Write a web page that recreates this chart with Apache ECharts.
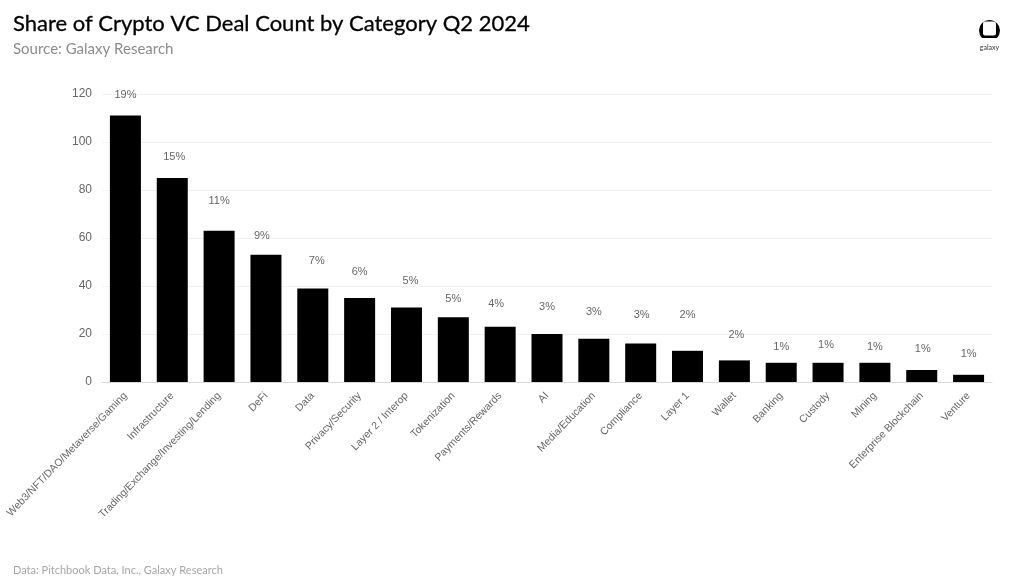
<!DOCTYPE html>
<html>
<head>
<meta charset="utf-8">
<style>
  html, body { margin: 0; padding: 0; background: #fff; }
  #chart { width: 1011px; height: 588px; }
</style>
<script src="https://cdn.jsdelivr.net/npm/echarts@6/dist/echarts.min.js"></script>
</head>
<body>
<div id="chart"></div>
<script>
const categories = [
  'Web3/NFT/DAO/Metaverse/Gaming', 'Infrastructure', 'Trading/Exchange/Investing/Lending',
  'DeFi', 'Data', 'Privacy/Security', 'Layer 2 / Interop', 'Tokenization', 'Payments/Rewards',
  'AI', 'Media/Education', 'Compliance', 'Layer 1', 'Wallet', 'Banking', 'Custody', 'Mining',
  'Enterprise Blockchain', 'Venture'
];
const dealCounts = [111, 85, 63, 53, 39, 35, 31, 27, 23, 20, 18, 16, 13, 9, 8, 8, 8, 5, 3];
const shares = ['19%', '15%', '11%', '9%', '7%', '6%', '5%', '5%', '4%', '3%', '3%', '3%', '2%', '2%', '1%', '1%', '1%', '1%', '1%'];

// the % labels were placed by hand in the original, so each one gets its own nudge (px)
const labelRise = [21, 21, 30, 19, 27, 26, 27, 18, 23, 27, 27, 29, 36, 25, 16, 18, 16, 21, 21];
const labelShift = [0, 2, 0, -4, 4, 0, 4, 0, -4, 0, 0, 1, 0, 2, 0, -2, 0, 1, 0];

const myChart = echarts.init(document.getElementById('chart'), null, { renderer: 'canvas' });
const labelFont = '"Liberation Sans", Arial, sans-serif';
const headFont = 'Lato, "Noto Sans", sans-serif';

myChart.setOption({
  animation: false,
  backgroundColor: '#ffffff',
  title: [
    {
      text: 'Share of Crypto VC Deal Count by Category Q2 2024',
      left: 13, top: 13, padding: 0,
      textStyle: {
        fontFamily: headFont, fontSize: 22, fontWeight: 400, color: '#000000',
        textBorderColor: '#000000', textBorderWidth: 0.3
      }
    },
    {
      text: 'Source: Galaxy Research',
      left: 13, top: 42, padding: 0,
      textStyle: { fontFamily: headFont, fontSize: 15, fontWeight: 400, color: '#8c8c8c' }
    },
    {
      text: 'Data: Pitchbook Data, Inc., Galaxy Research',
      left: 13, top: 565, padding: 0,
      textStyle: { fontFamily: headFont, fontSize: 11, fontWeight: 400, color: '#a6a6a6' }
    }
  ],
  grid: { left: 102, right: 19, top: 94, bottom: 206, outerBoundsMode: 'none' },
  xAxis: {
    type: 'category',
    data: categories,
    axisTick: { show: false },
    axisLine: { lineStyle: { color: '#d9d9d9', width: 1 } },
    axisLabel: {
      interval: 0,
      rotate: 46,
      margin: 12,
      fontFamily: labelFont,
      fontSize: 10.5,
      color: '#666666'
    }
  },
  yAxis: {
    type: 'value',
    min: 0,
    max: 120,
    interval: 20,
    axisLine: { show: false },
    axisTick: { show: false },
    splitLine: { lineStyle: { color: '#f2f2f2', width: 1 } },
    axisLabel: { margin: 10, fontFamily: labelFont, fontSize: 12, color: '#666666' }
  },
  series: [
    {
      type: 'bar',
      data: dealCounts.map((v, i) => ({
        value: v,
        label: { offset: [labelShift[i], -labelRise[i]] }
      })),
      barWidth: 31,
      itemStyle: { color: '#000000' },
      label: {
        show: true,
        position: 'top',
        distance: 0,
        verticalAlign: 'middle',
        fontFamily: labelFont,
        fontSize: 11,
        color: '#666666',
        formatter: (p) => shares[p.dataIndex]
      }
    }
  ],
  graphic: [
    // logo: ring with a square cut out, sitting on a short bar
    { type: 'circle', shape: { cx: 989.5, cy: 30.5, r: 10.5 }, style: { fill: '#000000' } },
    { type: 'rect', shape: { x: 983, y: 21.5, width: 13, height: 14, r: 2 }, style: { fill: '#ffffff' } },
    { type: 'rect', shape: { x: 978, y: 38, width: 23, height: 5 }, style: { fill: '#ffffff' } },
    { type: 'rect', shape: { x: 982, y: 36, width: 15, height: 2 }, style: { fill: '#000000' } },
    {
      type: 'text',
      style: {
        x: 989.5, y: 44,
        text: 'galaxy',
        align: 'center',
        font: '7px ' + headFont,
        fill: '#333333'
      }
    }
  ]
});
</script>
</body>
</html>
